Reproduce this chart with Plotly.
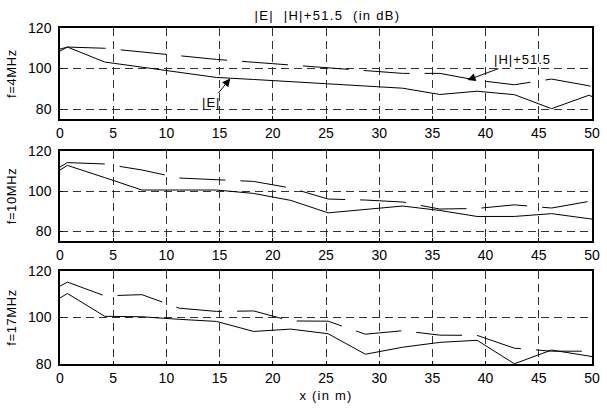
import plotly.graph_objects as go
from plotly.subplots import make_subplots

X = [0, 0.7, 4.2, 7.7, 11.2, 14.7, 18.2, 21.7, 25.2, 28.7, 32.2, 35.7, 39.2, 42.7, 46.2, 49.7, 50]

E_4MHZ = [108.6, 110.6, 103.2, 100.7, 98.0, 95.6, 94.6, 93.6, 92.6, 91.5, 90.3, 87.2, 88.8, 87.1, 80.2, 86.8, 86.2]
H_4MHZ = [109.6, 110.6, 110.0, 108.2, 106.2, 104.5, 103.1, 101.7, 100.3, 99.0, 97.6, 97.6, 94.2, 92.0, 94.8, 91.5, 91.0]

E_10MHZ = [110.5, 112.8, 106.7, 100.5, 100.5, 100.5, 98.8, 95.3, 89.1, 90.8, 92.5, 90.3, 87.3, 87.3, 88.7, 86.2, 86.0]
H_10MHZ = [112.0, 114.2, 113.5, 110.5, 106.5, 105.5, 104.8, 101.5, 96.0, 95.5, 94.5, 91.0, 91.3, 93.1, 91.5, 94.8, 95.0]

E_17MHZ = [108.4, 110.3, 100.5, 100.3, 99.2, 98.3, 94.0, 95.0, 93.0, 84.2, 87.2, 89.3, 90.2, 80.1, 86.0, 83.3, 83.2]
H_17MHZ = [113.5, 115.2, 109.3, 109.8, 104.0, 102.6, 102.8, 98.5, 98.4, 92.8, 94.3, 92.4, 92.3, 86.8, 85.5, 85.5, 85.5]

PANEL_LABELS = ["f=4MHz", "f=10MHz", "f=17MHz"]
Y_RANGES = [[75, 120], [75, 120], [80, 120]]
X_TICKS = [0, 5, 10, 15, 20, 25, 30, 35, 40, 45, 50]
Y_TICKS = [80, 100, 120]
TITLE = "|E|  |H|+51.5  (in dB)"
X_TITLE = "x (in m)"

FONT = "Liberation Sans, Arial, sans-serif"


def spaced(s, px):
    return f'<span style="letter-spacing:{px}px">{s}</span>'


fig = make_subplots(rows=3, cols=1, shared_xaxes=False, vertical_spacing=0.09)

panels = [(E_4MHZ, H_4MHZ), (E_10MHZ, H_10MHZ), (E_17MHZ, H_17MHZ)]
for i, (e, h) in enumerate(panels, start=1):
    fig.add_trace(go.Scatter(x=X, y=e, mode="lines", line=dict(color="black", width=1),
                             showlegend=False, hoverinfo="skip"), row=i, col=1)
    fig.add_trace(go.Scatter(x=X, y=h, mode="lines",
                             line=dict(color="black", width=1, dash="46px,15px"),
                             showlegend=False, hoverinfo="skip"), row=i, col=1)

domains = [[0.7286, 1.0], [0.3658, 0.634], [0.0, 0.277]]
for i in range(3):
    ax_x = "xaxis" if i == 0 else f"xaxis{i+1}"
    ax_y = "yaxis" if i == 0 else f"yaxis{i+1}"
    fig.layout[ax_x].update(
        range=[0, 50], tickvals=X_TICKS, showgrid=True, gridcolor="#333", griddash="8px,5px",
        gridwidth=1, showline=True, linecolor="black", linewidth=1.5, mirror=True,
        ticks="inside", ticklen=3, tickcolor="black", zeroline=False,
        tickfont=dict(family=FONT, size=14, color="black"),
    )
    fig.layout[ax_y].update(
        range=Y_RANGES[i], tickvals=Y_TICKS, showgrid=True, gridcolor="#333", griddash="8px,5px",
        gridwidth=1, showline=True, linecolor="black", linewidth=1.5, mirror=True,
        ticks="inside", ticklen=3, tickcolor="black", zeroline=False, domain=domains[i],
        tickfont=dict(family=FONT, size=14, color="black"), ticklabelstandoff=4,
        title=dict(text=spaced(PANEL_LABELS[i], 0.6), font=dict(family=FONT, size=13, color="black"),
                   standoff=9),
    )

fig.layout.xaxis3.title = dict(text=spaced(X_TITLE, 1.2), font=dict(family=FONT, size=13, color="black"),
                               standoff=6)

fig.add_annotation(x=16.0, y=95.1, ax=14.2, ay=83.4, xref="x", yref="y", axref="x", ayref="y",
                   text=spaced("|E|", 1), showarrow=True, arrowhead=2, arrowsize=1.6, arrowwidth=1,
                   arrowcolor="black", font=dict(family=FONT, size=13, color="black"),
                   standoff=0, startstandoff=0)
fig.add_annotation(x=38.3, y=94.3, ax=43.5, ay=104.4, xref="x", yref="y", axref="x", ayref="y",
                   text=spaced("|H|+51.5", 1), showarrow=True, arrowhead=2, arrowsize=1.6, arrowwidth=1,
                   arrowcolor="black", font=dict(family=FONT, size=13, color="black"),
                   standoff=0, startstandoff=0)

fig.update_layout(
    width=607, height=408,
    margin=dict(l=60, r=7, t=28, b=41),
    paper_bgcolor="white", plot_bgcolor="white",
    title=dict(text=spaced(TITLE, 1.3), x=327.5 / 607, xanchor="center", y=1 - 15 / 408,
               yanchor="middle", yref="container", font=dict(family=FONT, size=13, color="black")),
    font=dict(family=FONT, size=13, color="black"),
)

fig.write_html("out.html", config={"displayModeBar": False},
               post_script="document.body.style.margin='0';")
